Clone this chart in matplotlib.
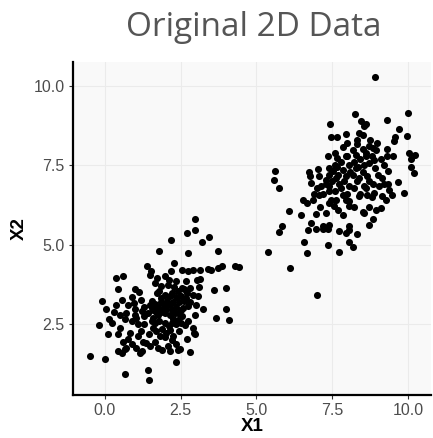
import matplotlib
matplotlib.use("Agg")
import matplotlib.pyplot as plt
import numpy as np

# ----- cluster 1 (lower left) -----
c1_x = [2.96, 2.98, 2.71, 3.42, 3.21, 2.17, 1.77, 2.73, 3.73, 1.39, 2.27, 1.51, 2.17, 2.54, 2.74,
        2.91, 3.13, 3.40, 3.51, 3.74, 3.87, 4.30, 4.44, 0.38, 0.60, 1.49, 1.72, 1.97, 2.11, 2.36,
        2.69, 3.05, 3.15, 0.42, 0.99, 1.13, 1.64, 1.86, 2.08, 2.27, 2.55, 2.80, 3.10, 3.59, 4.00,
        -0.09, 0.05, 0.55, 0.88, 0.96, 1.18, 1.29, 1.48, 1.72, 1.86, 1.97, 2.14, 2.36, 2.52, 2.69,
        2.91, 3.07, 0.38, 0.49, 0.66, 0.14, -0.20, 0.11, 0.49, 0.99, 1.04, 1.21, 1.43, 1.54, 1.59,
        1.75, 1.64, 1.86, 2.03, 2.14, 2.25, 2.41, 2.58, 2.74, 2.96, 3.23, 3.67, 4.00, 4.08, 0.82,
        1.10, 0.77, 0.88, 1.04, 1.21, 1.37, 1.70, 1.81, 2.03, 2.14, 2.25, 2.36, 2.52, 2.63, 2.91,
        2.93, 2.96, 0.44, 0.55, 0.66, 0.71, 1.15, 1.48, 1.75, 2.08, 2.14, 2.41, 2.49, 2.80, 2.34,
        -0.49, 0.02, 0.66, 1.41, 1.46,
        1.55, 1.65, 1.75, 1.85, 1.95, 2.05, 2.15, 2.25, 2.35, 2.45, 1.60, 1.70, 1.90, 2.00, 2.20,
        2.30, 2.50, 1.55, 1.80, 2.00, 2.10, 2.20, 2.40, 1.90, 2.00, 2.20, 1.60, 1.45, 1.30, 1.20,
        2.60, 2.70, 2.40, 2.20, 1.80, 2.60, 2.80, 3.00, 2.55, 2.75, 1.10, 0.90, 1.30, 2.45, 2.70,
        2.35, 1.65, 1.90, 1.00, 0.75, 0.70, 0.30, 0.25, 0.45, 0.60, 1.25]
c1_y = [5.82, 5.48, 5.37, 5.25, 5.08, 5.16, 4.81, 4.75, 4.82, 4.35, 4.44, 4.19, 4.19, 4.20, 4.19,
        4.20, 4.22, 4.25, 4.22, 4.26, 4.33, 4.33, 4.30, 3.96, 4.02, 4.04, 3.96, 4.02, 3.91, 3.86,
        3.88, 3.91, 3.94, 3.62, 3.60, 3.51, 3.81, 3.70, 3.75, 3.68, 3.65, 3.65, 3.68, 3.58, 3.65,
        3.23, 2.97, 3.26, 3.37, 3.18, 3.28, 3.05, 3.10, 3.49, 3.34, 3.44, 3.39, 3.37, 3.39, 3.34,
        3.44, 3.39, 3.10, 2.81, 2.66, 2.68, 2.48, 2.21, 2.40, 2.81, 2.71, 2.92, 2.87, 3.02, 2.71,
        2.81, 2.55, 2.89, 2.97, 2.81, 2.66, 2.87, 3.02, 3.07, 2.81, 2.97, 2.69, 2.97, 2.63, 2.24,
        2.13, 2.03, 1.87, 1.77, 1.66, 1.93, 2.29, 2.13, 2.24, 2.34, 2.13, 2.50, 2.55, 2.47, 2.40,
        2.24, 2.19, 1.66, 1.59, 1.72, 1.77, 1.61, 1.82, 1.77, 1.82, 1.66, 1.70, 1.72, 1.64, 1.32,
        1.51, 1.42, 0.95, 1.07, 0.74,
        3.25, 3.15, 3.05, 3.20, 3.10, 3.25, 3.10, 3.20, 3.05, 3.20, 2.95, 2.90, 2.95, 2.85, 2.95,
        2.85, 2.95, 2.60, 2.60, 2.55, 2.45, 2.55, 2.65, 2.35, 2.10, 2.00, 2.40, 2.20, 2.50, 2.30,
        3.60, 3.50, 3.55, 3.50, 3.55, 3.25, 3.20, 3.10, 2.75, 2.60, 2.50, 2.60, 2.75, 2.30, 2.05,
        1.90, 1.95, 1.70, 3.00, 3.10, 2.85, 2.90, 2.55, 2.20, 1.95, 1.95]

# ----- cluster 2 (upper right) -----
c2_x = [8.91, 8.26, 9.99, 7.42, 9.29, 8.61, 8.55, 9.70, 7.45, 7.67, 7.95, 8.39, 8.50, 9.57, 9.98,
        8.74, 8.99, 9.54, 8.31, 7.84, 8.17, 8.50, 8.85, 8.94, 7.35, 7.67, 7.95, 8.28, 8.61, 9.32,
        9.51, 10.03, 10.23, 10.11, 5.62, 5.59, 5.73, 6.74, 6.77, 7.02, 7.40, 7.51, 7.64, 7.84, 8.06,
        8.28, 8.55, 8.72, 8.88, 9.21, 9.35, 10.11, 10.21, 7.07, 7.29, 7.62, 7.95, 8.17, 8.39, 8.66,
        9.13, 9.67, 6.80, 7.13, 7.40, 7.73, 8.06, 8.55, 8.83, 9.04, 9.35, 9.37, 6.54, 6.65, 6.87,
        7.07, 7.40, 7.62, 7.84, 8.06, 8.39, 8.66, 8.88, 9.15, 9.27, 9.46, 9.85, 6.08, 6.47, 6.96,
        7.40, 7.57, 7.84, 8.06, 8.50, 8.55, 8.85, 9.10, 5.84, 6.80, 7.18, 7.40, 8.06, 8.72,
        5.73, 6.69, 6.96, 7.20, 7.35, 7.73, 7.95, 8.04, 8.30, 6.56, 6.66, 7.37, 7.73, 8.04, 8.19,
        5.37, 6.11, 7.01,
        7.50, 7.70, 7.90, 8.10, 8.30, 8.50, 8.70, 7.60, 7.80, 8.00, 8.20, 8.40, 8.60, 8.80, 7.20,
        7.30, 7.40, 7.60, 7.80, 8.00, 8.20, 8.40, 8.60, 8.80, 8.90, 8.00, 8.30, 8.70, 7.10, 7.30,
        7.70, 8.20, 8.70, 9.00, 9.10, 9.30, 8.45, 7.60, 7.00, 6.90, 8.95, 9.20, 7.95, 8.35, 7.45]
c2_y = [10.27, 9.10, 9.14, 8.79, 8.91, 8.80, 8.72, 8.63, 8.40, 8.38, 8.49, 8.51, 8.46, 8.38, 8.42,
        8.30, 8.19, 8.25, 8.17, 8.07, 7.99, 8.01, 8.04, 7.99, 7.80, 7.72, 7.78, 7.83, 7.78, 7.80,
        7.78, 7.90, 7.82, 7.69, 7.31, 7.05, 6.79, 7.29, 7.17, 7.38, 7.41, 7.31, 7.46, 7.36, 7.52,
        7.41, 7.52, 7.57, 7.67, 7.52, 7.31, 7.44, 7.25, 7.15, 7.05, 7.10, 7.15, 7.20, 7.10, 7.15,
        7.10, 6.99, 6.94, 6.84, 6.84, 6.92, 6.86, 6.84, 6.92, 6.86, 6.92, 6.73, 6.42, 6.31, 6.42,
        6.58, 6.68, 6.42, 6.58, 6.37, 6.52, 6.58, 6.63, 6.52, 6.42, 6.58, 6.64, 6.07, 5.95, 5.98,
        6.31, 6.23, 5.95, 6.21, 6.02, 6.00, 5.81, 6.16, 5.60, 5.69, 5.60, 5.63, 5.60, 5.63,
        5.39, 5.46, 5.50, 5.50, 5.50, 5.43, 5.37, 5.46, 5.34, 5.09, 4.75, 5.01, 4.78, 5.08, 4.92,
        4.77, 4.28, 3.41,
        7.00, 7.20, 7.00, 7.30, 7.00, 7.30, 7.00, 6.70, 6.80, 6.60, 6.80, 6.60, 6.80, 6.50, 6.60,
        6.90, 7.20, 7.50, 7.60, 7.80, 7.60, 7.70, 7.90, 7.80, 7.40, 8.20, 8.30, 8.10, 6.20, 6.00,
        6.10, 6.20, 6.20, 7.20, 7.70, 8.00, 8.90, 7.90, 6.80, 6.60, 6.10, 6.90, 6.40, 7.45, 6.40]

x = np.array(c1_x + c2_x)
y = np.array(c1_y + c2_y)

XTICKS = [0.0, 2.5, 5.0, 7.5, 10.0]
YTICKS = [2.5, 5.0, 7.5, 10.0]

plt.rcParams["font.family"] = ["Liberation Sans", "DejaVu Sans"]

fig = plt.figure(figsize=(4.33, 4.38), dpi=100)
ax = fig.add_axes([0.1686, 0.098, 0.8264, 0.760])
ax.set_facecolor("#F9F9F9")
ax.scatter(x, y, s=26, color="black", linewidths=0, zorder=3)

ax.set_xlim(-1.05, 10.75); ax.set_ylim(0.28, 10.74)
ax.set_xticks(XTICKS); ax.set_xticklabels([f"{v:.1f}" for v in XTICKS])
ax.set_yticks(YTICKS); ax.set_yticklabels([f"{v:.1f}" for v in YTICKS])
ax.grid(True, color="#EBEBEB", lw=0.8, zorder=0)
ax.set_axisbelow(True)
for s in ["top", "right"]:
    ax.spines[s].set_visible(False)
for s in ["left", "bottom"]:
    ax.spines[s].set_linewidth(1.6); ax.spines[s].set_color("black")
ax.tick_params(length=3, width=0.8, color="#333333", labelcolor="#4D4D4D", labelsize=11.5, pad=3)
ax.set_xlabel("X1", fontsize=13.5, fontweight="bold", labelpad=0)
ax.set_ylabel("X2", fontsize=13.5, fontweight="bold", labelpad=4)
fig.text(0.587, 0.938, "Original 2D Data", ha="center", va="center",
         fontsize=24, color="#555555", family="Open Sans")

fig.savefig("out.png", dpi=100)
